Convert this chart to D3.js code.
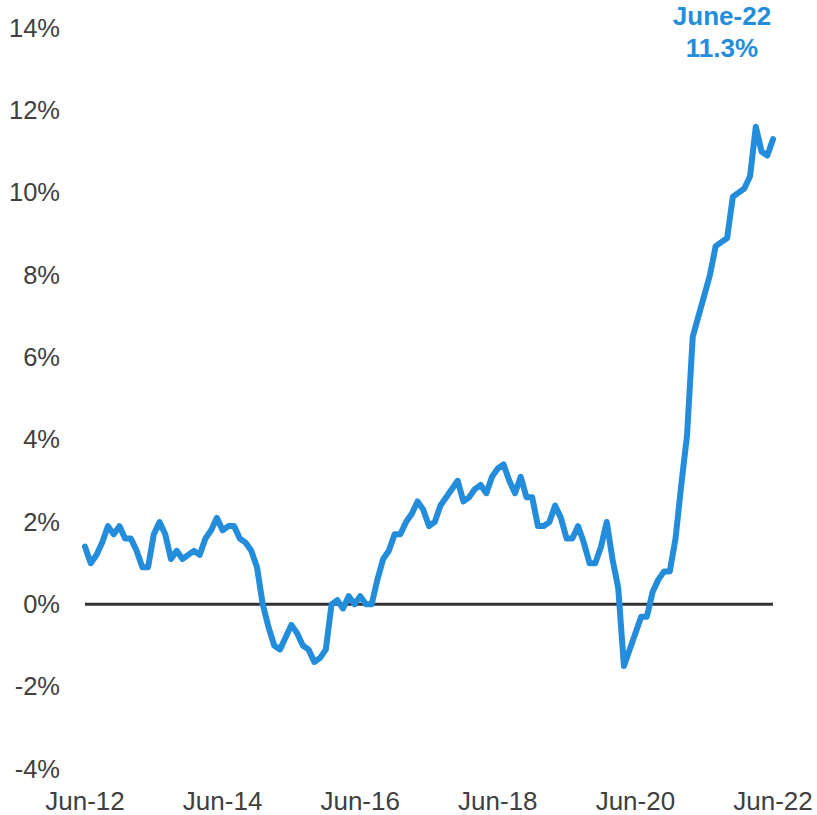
<!DOCTYPE html>
<html><head><meta charset="utf-8">
<script src="https://cdn.jsdelivr.net/npm/d3@7"></script>
<style>body{margin:0;background:#fff;} svg{display:block;}</style>
</head><body>
<script>
const values = [
1.4,1.0,1.2,1.5,1.9,1.7,1.9,1.6,1.6,1.3,0.9,0.9,
1.7,2.0,1.7,1.1,1.3,1.1,1.2,1.3,1.2,1.6,1.8,2.1,
1.8,1.9,1.9,1.6,1.5,1.3,0.9,0.0,-0.55,-1.0,
-1.1,-0.8,-0.5,-0.7,-1.0,-1.1,-1.4,-1.3,-1.1,0.0,0.1,-0.1,
0.2,0.0,0.2,0.0,0.0,0.6,1.1,1.3,1.7,1.7,2.0,2.2,2.5,2.3,
1.9,2.0,2.4,2.6,2.8,3.0,2.5,2.6,2.8,2.9,2.7,3.1,
3.3,3.4,3.0,2.7,3.1,2.6,2.6,1.9,1.9,2.0,2.4,2.1,
1.6,1.6,1.9,1.5,1.0,1.0,1.4,2.0,1.1,0.4,-1.5,-1.1,
-0.7,-0.3,-0.3,0.3,0.6,0.8,0.8,1.6,2.9,4.1,6.5,7.0,
7.5,8.0,8.7,8.8,8.9,9.9,10.0,10.1,10.4,11.6,11.0,10.9,11.3
];
const yTicks = [-4,-2,0,2,4,6,8,10,12,14];
const xTickLabels = ["Jun-12","Jun-14","Jun-16","Jun-18","Jun-20","Jun-22"];
const xTickMonths = [0,24,48,72,96,120];
const annotationLines = ["June-22","11.3%"];

const W=817,H=815;
const svg=d3.select("body").append("svg").attr("width",W).attr("height",H);
const x=d3.scaleLinear().domain([0,values.length-1]).range([85,773]);
const y=d3.scaleLinear().domain([-4,14]).range([769,28]);
const font="'Liberation Sans', Arial, sans-serif";

svg.append("g").selectAll("text").data(yTicks).join("text")
  .attr("x",60).attr("y",d=>y(d)+8.5)
  .attr("text-anchor","end").attr("font-family",font).attr("font-size",25.5)
  .attr("fill","#404040").text(d=>d+"%");

svg.append("g").selectAll("text").data(xTickMonths).join("text")
  .attr("x",d=>x(d)).attr("y",810)
  .attr("text-anchor","middle").attr("font-family",font).attr("font-size",26)
  .attr("fill","#404040").text((d,i)=>xTickLabels[i]);

svg.append("line").attr("x1",x(0)).attr("x2",x(120)).attr("y1",y(0)).attr("y2",y(0))
  .attr("stroke","#333").attr("stroke-width",3);

svg.append("path").datum(values)
  .attr("d",d3.line().x((d,i)=>x(i)).y(d=>y(d)))
  .attr("fill","none").attr("stroke","#238ddc").attr("stroke-width",6)
  .attr("stroke-linejoin","round").attr("stroke-linecap","round");

svg.append("g").selectAll("text").data(annotationLines).join("text")
  .attr("x",722).attr("y",(d,i)=>25+i*32)
  .attr("text-anchor","middle").attr("font-family",font).attr("font-size",26)
  .attr("font-weight","bold").attr("fill","#238ddc").text(d=>d);
</script>
</body></html>
